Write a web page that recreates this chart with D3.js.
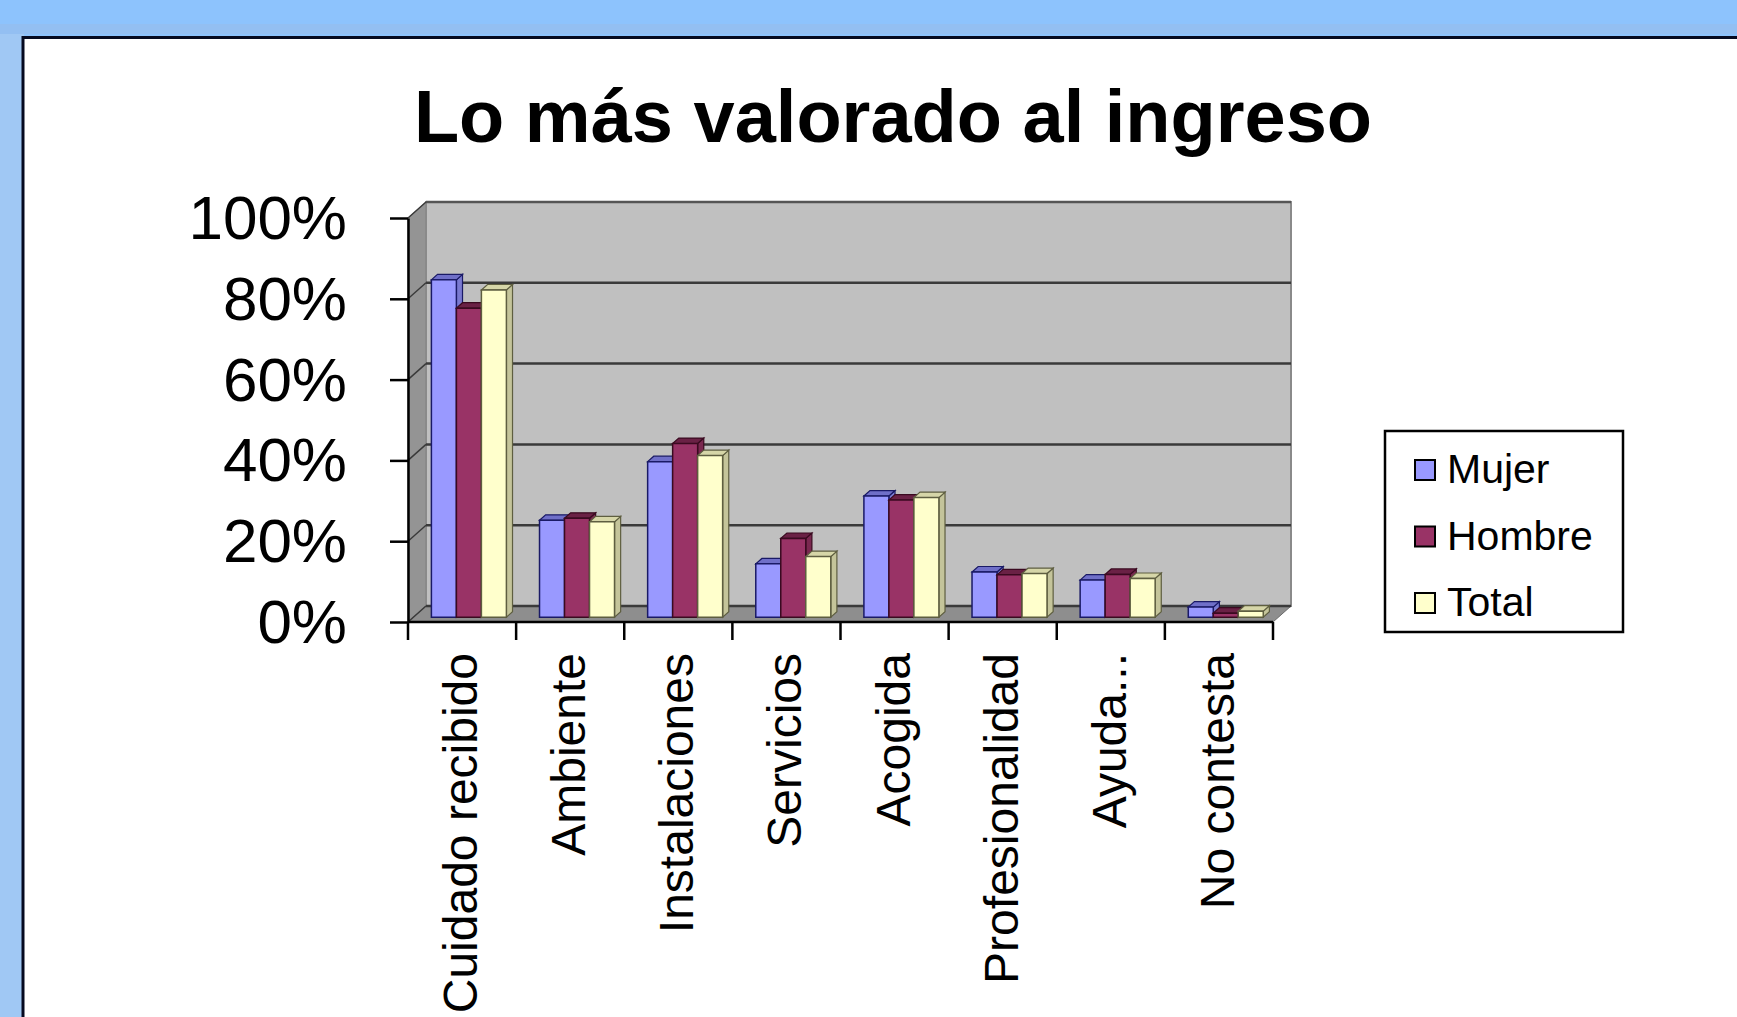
<!DOCTYPE html>
<html>
<head>
<meta charset="utf-8">
<script src="https://cdn.jsdelivr.net/npm/d3@7"></script>
<style>
  html, body { margin: 0; padding: 0; background: #8DC3FD; }
  svg { display: block; }
  text { font-family: "Liberation Sans", Arial, sans-serif; }
</style>
</head>
<body>
<svg id="chart" width="1737" height="1017"></svg>
<script>
const title = "Lo más valorado al ingreso";
const categories = ["Cuidado recibido", "Ambiente", "Instalaciones", "Servicios", "Acogida", "Profesionalidad", "Ayuda...", "No contesta"];
const seriesNames = ["Mujer", "Hombre", "Total"];
const mujer  = [0.835, 0.240, 0.385, 0.132, 0.300, 0.112, 0.092, 0.025];
const hombre = [0.765, 0.245, 0.430, 0.195, 0.290, 0.105, 0.106, 0.010];
const total  = [0.810, 0.236, 0.400, 0.150, 0.296, 0.108, 0.096, 0.015];
const yTicks = [0, 0.2, 0.4, 0.6, 0.8, 1.0];

const seriesValues = [mujer, hombre, total];
const faceColors = {
  Mujer:  { front: "#9999FF", top: "#6F6FC8", side: "#7A7AD0", stroke: "#1A1A66" },
  Hombre: { front: "#993366", top: "#6A2145", side: "#7A2850", stroke: "#3A0A20" },
  Total:  { front: "#FFFFCC", top: "#D6D6A8", side: "#C4C49A", stroke: "#5E5E40" }
};

const svg = d3.select("#chart");

// page frame
svg.append("rect").attr("x", 0).attr("y", 0).attr("width", 1737).attr("height", 1017).attr("fill", "#8DC3FD");
svg.append("rect").attr("x", 0).attr("y", 24).attr("width", 1737).attr("height", 10).attr("fill", "#93BFF2");
svg.append("rect").attr("x", 0).attr("y", 34).attr("width", 24).attr("height", 983).attr("fill", "#A0C8F4");
svg.append("rect").attr("x", 23).attr("y", 37.5).attr("width", 1720).attr("height", 1000)
  .attr("fill", "#FFFFFF").attr("stroke", "#050A20").attr("stroke-width", 3);

// title
svg.append("text").attr("x", 893).attr("y", 142).attr("text-anchor", "middle")
  .attr("font-size", 74).attr("font-weight", "bold").attr("fill", "#000").text(title);

// scales
const x = d3.scaleBand().domain(categories).range([408, 1273]).paddingInner(0).paddingOuter(0);
const xs = d3.scaleBand().domain(seriesNames).range([18, 93]);
const y = d3.scaleLinear().domain([0, 1]).range([622, 218]);
const DX = 18, DY = 16;
const proj = (px, py, t) => [px + t * DX, py - t * DY];
const poly = pts => pts.map(p => p.join(",")).join(" ");

const x0 = x.range()[0], x1 = x.range()[1];

// walls
const g = svg.append("g");
g.append("polygon") // side wall
  .attr("points", poly([[x0, y(1)], proj(x0, y(1), 1), proj(x0, y(0), 1), [x0, y(0)]]))
  .attr("fill", "#949494").attr("stroke", "#7a7a7a").attr("stroke-width", 1);
g.append("polygon") // back wall
  .attr("points", poly([proj(x0, y(1), 1), proj(x1, y(1), 1), proj(x1, y(0), 1), proj(x0, y(0), 1)]))
  .attr("fill", "#C0C0C0").attr("stroke", "#8a8a8a").attr("stroke-width", 2);
g.append("polygon") // floor
  .attr("points", poly([[x0, y(0)], proj(x0, y(0), 1), proj(x1, y(0), 1), [x1, y(0)]]))
  .attr("fill", "#8E8E8E").attr("stroke", "#6a6a6a").attr("stroke-width", 1);

// gridlines
yTicks.forEach(v => {
  const a = proj(x0, y(v), 1), b = proj(x1, y(v), 1);
  g.append("line").attr("x1", a[0]).attr("y1", a[1]).attr("x2", b[0]).attr("y2", b[1])
    .attr("stroke", v === 1 ? "#555" : "#3a3a3a").attr("stroke-width", 2.5);
  g.append("line").attr("x1", x0).attr("y1", y(v)).attr("x2", a[0]).attr("y2", a[1])
    .attr("stroke", "#3a3a3a").attr("stroke-width", 1.5);
});

// bars
const T0 = 0.3, T1 = 0.64;
const bars = svg.append("g");
categories.forEach((c, ci) => {
  seriesNames.forEach((s, si) => {
    const v = seriesValues[si][ci];
    const bx0 = x(c) + xs(s), bx1 = bx0 + xs.bandwidth();
    const yt = y(v), yb = y(0);
    const col = faceColors[s];
    bars.append("polygon")
      .attr("points", poly([proj(bx1, yt, T0), proj(bx1, yt, T1), proj(bx1, yb, T1), proj(bx1, yb, T0)]))
      .attr("fill", col.side).attr("stroke", col.stroke).attr("stroke-width", 1.2);
    bars.append("polygon")
      .attr("points", poly([proj(bx0, yt, T0), proj(bx1, yt, T0), proj(bx1, yt, T1), proj(bx0, yt, T1)]))
      .attr("fill", col.top).attr("stroke", col.stroke).attr("stroke-width", 1.2);
    bars.append("polygon")
      .attr("points", poly([proj(bx0, yt, T0), proj(bx1, yt, T0), proj(bx1, yb, T0), proj(bx0, yb, T0)]))
      .attr("fill", col.front).attr("stroke", col.stroke).attr("stroke-width", 1.5);
  });
});

// y axis
const yAxis = d3.axisLeft(y).tickValues(yTicks).tickFormat(d3.format(".0%"))
  .tickSize(18).tickSizeOuter(0).tickPadding(43);
const ya = svg.append("g").attr("transform", `translate(${x0},0)`).call(yAxis);
ya.select(".domain").attr("stroke", "#000").attr("stroke-width", 2.5);
ya.selectAll(".tick line").attr("stroke", "#000").attr("stroke-width", 2.5);
ya.selectAll(".tick text").attr("font-size", 62).attr("fill", "#000")
  .attr("font-family", "Liberation Sans, Arial, sans-serif").attr("dy", "0.33em");

// x axis (ticks at band boundaries)
const xa = svg.append("g");
xa.append("line").attr("x1", x0).attr("y1", y(0)).attr("x2", x1).attr("y2", y(0))
  .attr("stroke", "#000").attr("stroke-width", 2.5);
const bounds = categories.map(c => x(c)).concat([x1]);
xa.selectAll(".xt").data(bounds).enter().append("line")
  .attr("x1", d => d).attr("x2", d => d).attr("y1", y(0)).attr("y2", y(0) + 18)
  .attr("stroke", "#000").attr("stroke-width", 2.5);
xa.selectAll(".xl").data(categories).enter().append("text")
  .attr("transform", d => `translate(${x(d) + x.bandwidth() / 2 + 15},653) rotate(-90)`)
  .attr("text-anchor", "end").attr("font-size", 48).attr("fill", "#000")
  .text(d => d);

// legend
const lg = svg.append("g");
lg.append("rect").attr("x", 1385).attr("y", 431).attr("width", 238).attr("height", 201)
  .attr("fill", "#fff").attr("stroke", "#000").attr("stroke-width", 2.5);
const legendY = d3.scalePoint().domain(seriesNames).range([470, 603]);
seriesNames.forEach(s => {
  lg.append("rect").attr("x", 1415).attr("y", legendY(s) - 10).attr("width", 20).attr("height", 20)
    .attr("fill", faceColors[s].front).attr("stroke", "#000").attr("stroke-width", 2);
  lg.append("text").attr("x", 1447).attr("y", legendY(s) + 13).attr("font-size", 41).attr("fill", "#000").text(s);
});
</script>
</body>
</html>
